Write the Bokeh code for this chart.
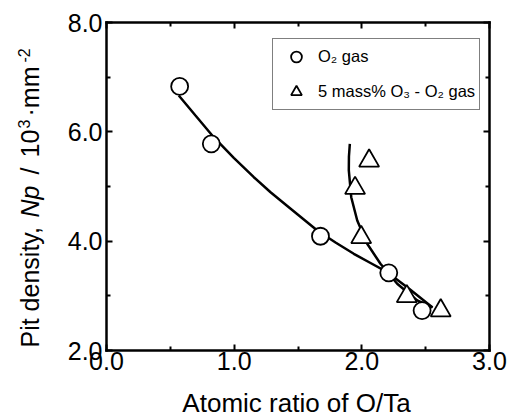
import math
from bokeh.plotting import figure
from bokeh.models import Range1d, LinearAxis, FixedTicker, Legend, LegendItem, Label
from bokeh.embed import file_html
from bokeh.resources import INLINE

# ---- data ----
o2_x = [0.573, 0.821, 1.676, 2.211, 2.472]
o2_y = [6.83, 5.78, 4.09, 3.42, 2.73]

o3_x = [2.057, 1.947, 1.995, 2.352, 2.618]
o3_y = [5.47, 4.97, 4.07, 2.99, 2.73]

o2_curve_x = [0.566, 0.697, 0.840, 0.997, 1.154, 1.285, 1.416, 1.651, 1.794, 1.937, 2.068, 2.199, 2.368, 2.554]
o2_curve_y = [6.665, 6.299, 5.902, 5.525, 5.170, 4.894, 4.643, 4.195, 3.976, 3.769, 3.601, 3.432, 3.134, 2.787]

o3_curve_x = [1.906, 1.899, 1.898, 1.917, 1.964, 2.042, 2.146, 2.277, 2.434, 2.554]
o3_curve_y = [5.781, 5.549, 5.293, 4.804, 4.378, 3.952, 3.586, 3.220, 2.915, 2.787]

x_ticks = [0, 1, 2, 3]
x_tick_labels = ["0.0", "1.0", "2.0", "3.0"]
x_minor = [0.5, 1.5, 2.5]
y_ticks = [2, 4, 6, 8]
y_tick_labels = ["2.0", "4.0", "6.0", "8.0"]
y_minor = [3, 5, 7]

legend_labels = ["O\u2082 gas", "5 mass% O\u2083 - O\u2082 gas"]
x_title = "Atomic ratio of O/Ta"

FONT = "Liberation Sans"

# ---- layout (pixels) ----
W, H = 514, 417
FL, FR, FT, FB = 106, 489, 22, 350   # plot box edges in canvas pixels
X0, X1 = x_ticks[0], x_ticks[-1]
Y0, Y1 = y_ticks[0], y_ticks[-1]
sx = (FR - FL) / (X1 - X0)
sy = (FB - FT) / (Y1 - Y0)
xr = Range1d(X0 - FL / sx, X1 + (W - FR) / sx)
yr = Range1d(Y0 - (H - FB) / sy, Y1 + FT / sy)

def px_x(px):  # canvas pixel -> data x
    return X0 + (px - FL) / sx

def px_y(py):  # canvas pixel -> data y
    return Y0 + (FB - py) / sy

p = figure(width=W, height=H, x_range=xr, y_range=yr,
           output_backend="svg", toolbar_location=None,
           x_axis_location=None, y_axis_location=None,
           min_border=0, min_border_left=0, min_border_right=0,
           min_border_top=0, min_border_bottom=0)
p.xgrid.visible = False
p.ygrid.visible = False
p.outline_line_color = None
p.background_fill_color = "white"
p.border_fill_color = "white"

def make_axis(ticks, minor, fixed, bounds, labels=None):
    ax = LinearAxis(fixed_location=fixed, bounds=bounds)
    ax.ticker = FixedTicker(ticks=ticks, minor_ticks=minor)
    ax.axis_line_width = 2.5
    ax.axis_line_color = "black"
    ax.axis_line_cap = "square"
    ax.major_tick_in = 6
    ax.major_tick_out = 0
    ax.minor_tick_in = 4
    ax.minor_tick_out = 0
    ax.major_tick_line_width = 2
    ax.minor_tick_line_width = 2
    ax.major_tick_line_color = "black"
    ax.minor_tick_line_color = "black"
    if labels is not None:
        ax.major_label_overrides = {t: l for t, l in zip(ticks, labels)}
        ax.major_label_text_font = FONT
        ax.major_label_text_font_size = "25px"
        ax.major_label_text_color = "black"
    else:
        ax.major_label_text_color = None
    return ax

bottom = make_axis(x_ticks, x_minor, Y0, (X0, X1), x_tick_labels)
bottom.major_label_standoff = 1
p.add_layout(bottom, "below")
left = make_axis(y_ticks, y_minor, X0, (Y0, Y1), y_tick_labels)
left.major_label_standoff = 4
p.add_layout(left, "left")
top = make_axis(x_ticks, x_minor, Y1, (X0, X1))
p.add_layout(top, "above")
right = make_axis(y_ticks, y_minor, X1, (Y0, Y1))
p.add_layout(right, "right")

# curves
p.line(o2_curve_x, o2_curve_y, line_color="black", line_width=2.5)
p.line(o3_curve_x, o3_curve_y, line_color="black", line_width=2.5)

# points
r1 = p.scatter(o2_x, o2_y, marker="circle", size=17, fill_color="white",
               line_color="black", line_width=1.8)
r2 = p.scatter(o3_x, o3_y, marker="triangle", size=20, fill_color="white",
               line_color="black", line_width=1.8)

legend = Legend(items=[LegendItem(label=legend_labels[0], renderers=[r1]),
                       LegendItem(label=legend_labels[1], renderers=[r2])],
                location=(272, H - 110))
legend.border_line_color = "black"
legend.border_line_width = 1.5
legend.padding = 4
legend.spacing = 8
legend.margin = 0
legend.glyph_width = 38
legend.glyph_height = 27
legend.label_height = 27
legend.label_standoff = 3
legend.label_text_font = FONT
legend.label_text_font_size = "16.5px"
legend.label_text_color = "black"
legend.background_fill_color = "white"
legend.background_fill_alpha = 1
p.add_layout(legend)

# x axis title (middle of text at baseline - ~0.35em)
p.add_layout(Label(x=px_x(296), y=px_y(402), text=x_title,
                   text_font=FONT, text_font_size="26px", text_align="center",
                   text_baseline="middle", text_color="black"))

# y axis title, built in pieces (italic Np, superscripts)
ang = math.pi / 2
bx = 29.8        # middle line of the 25px text
sup_x = 23.0     # middle line of the superscripts
y_start = 347
pieces = [
    ("Pit density,", 0, bx, "25px", "normal"),
    ("Np", 130, bx, "25px", "italic"),
    ("/", 173, bx, "25px", "normal"),
    ("10", 190, bx, "25px", "normal"),
    ("3", 219, sup_x, "16px", "normal"),
    ("\u00b7mm", 231, bx, "25px", "normal"),
    ("-2", 285, sup_x, "16px", "normal"),
]
for txt, off, xx, fs, st in pieces:
    p.add_layout(Label(x=px_x(xx), y=px_y(y_start - off), text=txt,
                       angle=ang, text_font=FONT, text_font_size=fs, text_font_style=st,
                       text_align="left", text_baseline="middle", text_color="black"))

open("out.html", "w").write(file_html(p, INLINE))
